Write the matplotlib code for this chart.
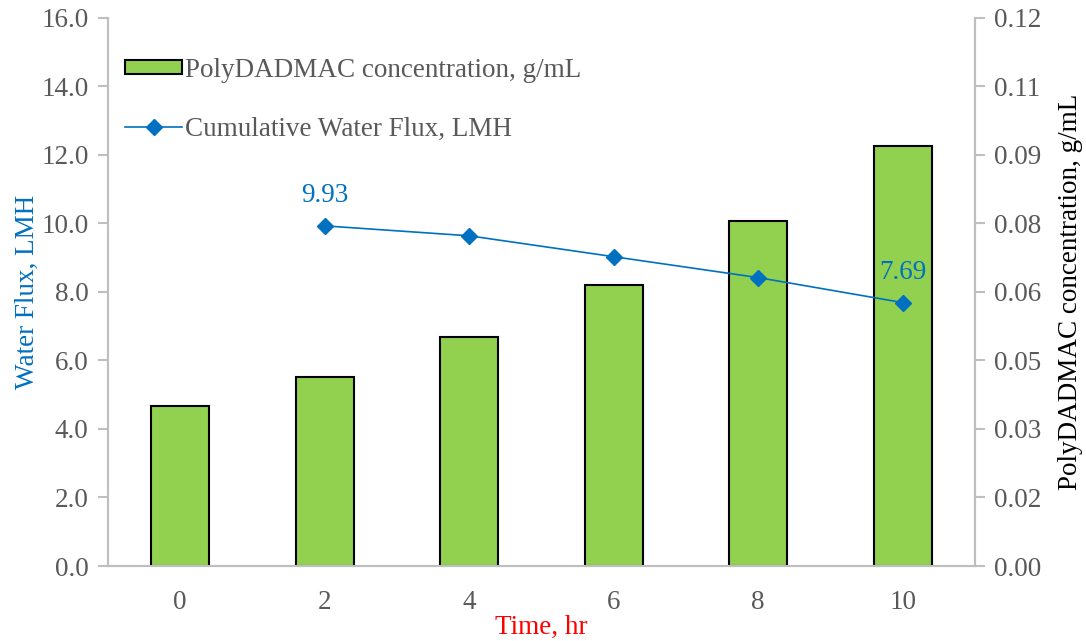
import matplotlib as mpl
import matplotlib.pyplot as plt
import numpy as np

mpl.use("Agg")
plt.rcParams["font.family"] = ["Liberation Serif", "DejaVu Serif"]

# data
time_hr = ["0", "2", "4", "6", "8", "10"]
conc_gml = [0.0350, 0.0414, 0.0501, 0.0615, 0.0755, 0.0920]
flux_time = ["2", "4", "6", "8", "10"]
flux_lmh = [9.93, 9.64, 9.03, 8.42, 7.69]

flux_ticks = [0, 2, 4, 6, 8, 10, 12, 14, 16]
conc_ticks = [0, 0.015, 0.03, 0.045, 0.06, 0.075, 0.09, 0.105, 0.12]
conc_tick_labels = ["0.00", "0.02", "0.03", "0.05", "0.06", "0.08", "0.09", "0.11", "0.12"]

green = "#92D050"
blue = "#0070C0"
grey = "#BFBFBF"
txt = "#595959"
fs = 19.5

fig = plt.figure(figsize=(10.86, 6.41), dpi=100)
ax = fig.add_axes([0.0994, 0.117, 0.7984, 0.855])
ax2 = ax.twinx()

x = np.arange(len(time_hr))
xf = [time_hr.index(t) for t in flux_time]

bars = ax2.bar(x, conc_gml, width=0.4, color=green, edgecolor="black",
               linewidth=1.5, label="PolyDADMAC concentration, g/mL")
line, = ax.plot(xf, flux_lmh, color=blue, lw=1.2, marker="D", ms=8,
                label="Cumulative Water Flux, LMH")

# keep the line on top of the bars
ax.set_zorder(ax2.get_zorder() + 1)
ax.patch.set_visible(False)

for i in [0, len(flux_lmh) - 1]:
    ax.annotate(f"{flux_lmh[i]:.2f}", (xf[i], flux_lmh[i]), xytext=(0, 22),
                textcoords="offset points", ha="center", va="center",
                color=blue, fontsize=fs)

ax.set_xlim(-0.5, len(time_hr) - 0.5)
ax.set_ylim(0, 16)
ax2.set_ylim(0, 0.12)
ax.set_yticks(flux_ticks)
ax.set_yticklabels([f"{v:.1f}" for v in flux_ticks])
ax2.set_yticks(conc_ticks)
ax2.set_yticklabels(conc_tick_labels)
ax.set_xticks(x)
ax.set_xticklabels(time_hr)

for a in (ax, ax2):
    for s in a.spines.values():
        s.set_color(grey)
        s.set_linewidth(1.5)
    a.spines["top"].set_visible(False)
    a.tick_params(colors=grey, labelcolor=txt, labelsize=fs, width=1.5, length=7, pad=7)
ax.tick_params(axis="x", length=0, pad=17)

ax.set_xlabel("Time, hr", color="red", fontsize=fs, labelpad=0)
ax.set_ylabel("Water Flux, LMH", color=blue, fontsize=fs, labelpad=1)
ax2.set_ylabel("PolyDADMAC concentration, g/mL", color="black", fontsize=fs, labelpad=12)

ax.legend([bars, line], [bars.get_label(), line.get_label()], loc="upper left",
          bbox_to_anchor=(-0.008, 0.972), frameon=False, fontsize=fs, labelcolor=txt,
          handlelength=2.1, handleheight=0.45, handletextpad=0.1,
          labelspacing=1.25, borderaxespad=0.5)

fig.savefig("out.png", dpi=100)
